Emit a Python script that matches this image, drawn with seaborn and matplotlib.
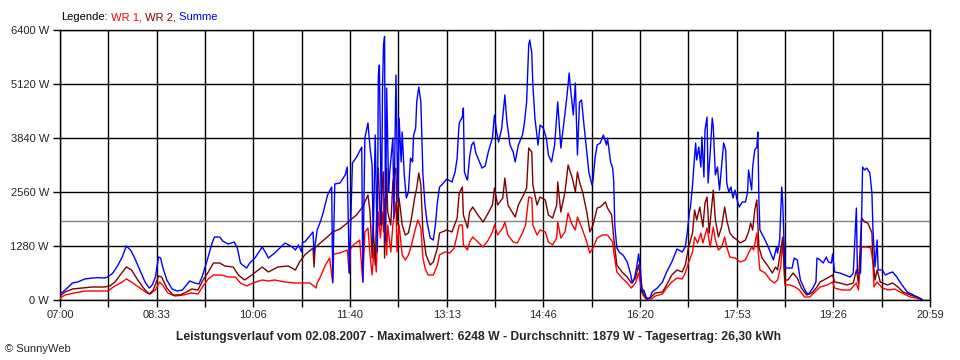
import numpy as np
import pandas as pd
import matplotlib
matplotlib.use("Agg")
import matplotlib.pyplot as plt
import seaborn as sns

# minutes after 07:00, power in W
wr1_pts = [(0, 47), (5, 119), (14, 166), (24, 213), (37, 213), (46, 213), (53, 332), (60, 427), (64, 498),
           (69, 427), (77, 284), (84, 166), (87, 142), (92, 237), (96, 427), (99, 356), (104, 166), (111, 95),
           (119, 119), (127, 166), (133, 142), (138, 332), (143, 498), (148, 593), (156, 593), (162, 545),
           (169, 545), (174, 403), (180, 332), (186, 403), (195, 474), (201, 450), (207, 474), (217, 427),
           (227, 403), (231, 403), (241, 403), (247, 284), (248, 403), (251, 545), (256, 830), (260, 995),
           (263, 403), (264, 1090), (270, 1114), (277, 1185), (279, 640), (280, 1200), (283, 1304), (289, 1422),
           (292, 427), (294, 1612), (297, 1706), (299, 1067), (301, 593), (303, 1304), (305, 664), (307, 2086),
           (309, 1469), (311, 2086), (312, 1612), (313, 2417), (315, 1067), (316, 1778), (319, 1138), (321, 1778),
           (324, 2323), (325, 1138), (327, 1778), (330, 1067), (333, 948), (336, 1067), (339, 1304), (342, 1612),
           (345, 1896), (348, 1706), (350, 995), (352, 758), (355, 593), (360, 593), (364, 830), (366, 1067),
           (371, 1138), (376, 1114), (380, 1232), (383, 1541), (385, 1778), (388, 1778), (389, 1304), (393, 1185),
           (395, 1375), (398, 1493), (403, 1375), (408, 1256), (413, 1422), (417, 1612), (419, 1778), (422, 1541),
           (427, 1706), (429, 1849), (432, 1541), (437, 1375), (441, 1351), (446, 1588), (449, 1778), (452, 2441),
           (455, 2417), (456, 1778), (460, 1541), (463, 1659), (468, 1612), (471, 1375), (475, 1304), (479, 1469),
           (480, 1849), (483, 1469), (487, 1612), (490, 2062), (494, 1778), (497, 1659), (499, 1967), (501, 1849),
           (504, 1659), (508, 1375), (511, 1114), (514, 1232), (518, 1469), (523, 1541), (528, 1541), (530, 1469),
           (533, 1375), (534, 1138), (537, 664), (542, 521), (547, 403), (551, 284), (555, 403), (558, 640),
           (560, 356), (562, 119), (566, 0), (569, 0), (574, 95), (581, 142), (585, 284), (590, 427), (595, 521),
           (600, 498), (603, 640), (606, 877), (610, 1138), (612, 1493), (615, 1351), (618, 1588), (620, 1351),
           (624, 1706), (627, 1256), (630, 1730), (632, 1422), (635, 1185), (638, 1256), (641, 1493), (643, 1256),
           (646, 1019), (651, 995), (656, 901), (661, 948), (664, 1114), (667, 1256), (669, 1185), (672, 1588),
           (674, 948), (675, 711), (680, 640), (685, 474), (689, 403), (692, 474), (695, 782), (697, 1422),
           (699, 356), (704, 356), (709, 308), (713, 237), (718, 71), (723, 71), (728, 190), (733, 308), (740, 356),
           (745, 427), (747, 284), (754, 237), (762, 237), (768, 403), (770, 237), (773, 1256), (778, 1256),
           (782, 1232), (784, 877), (785, 308), (788, 427), (793, 284), (799, 237), (805, 261), (812, 166),
           (820, 71), (826, 47), (831, 0)]

wr2_pts = [(0, 95), (5, 190), (12, 261), (21, 284), (31, 308), (43, 308), (48, 332), (53, 427), (58, 593),
           (64, 782), (69, 711), (75, 474), (82, 237), (86, 142), (90, 237), (95, 569), (98, 545), (103, 284),
           (109, 119), (116, 119), (122, 190), (127, 261), (133, 237), (138, 474), (143, 664), (148, 877),
           (154, 877), (159, 806), (167, 782), (172, 593), (178, 474), (185, 593), (195, 782), (201, 664),
           (210, 782), (220, 806), (227, 711), (231, 901), (236, 1067), (244, 1232), (245, 782), (246, 1240),
           (251, 1351), (260, 1541), (263, 1612), (270, 1683), (277, 1825), (280, 1896), (286, 2015), (291, 2180),
           (294, 2323), (297, 2489), (299, 2086), (301, 995), (302, 1778), (304, 830), (306, 2654), (307, 3128),
           (309, 1778), (311, 2797), (312, 3034), (313, 995), (315, 3128), (316, 2086), (319, 1778), (321, 2797),
           (324, 3128), (325, 1778), (327, 2417), (330, 1778), (333, 1541), (336, 1588), (339, 1943), (342, 2417),
           (344, 2654), (346, 3010), (348, 2726), (350, 1612), (353, 1067), (357, 830), (360, 901), (364, 1232),
           (366, 1588), (373, 1659), (378, 1612), (383, 1943), (385, 2536), (388, 2678), (389, 2015), (393, 1706),
           (395, 2086), (398, 2204), (403, 2015), (408, 1849), (413, 2062), (417, 2252), (419, 2654), (422, 2252),
           (427, 2417), (429, 2891), (432, 2252), (436, 2086), (439, 1967), (442, 2252), (447, 2489), (450, 2654),
           (452, 3602), (455, 3508), (456, 2726), (460, 2252), (463, 2441), (468, 2370), (471, 2015), (475, 1943),
           (479, 2252), (480, 2797), (483, 2086), (487, 2560), (490, 3200), (494, 2891), (497, 2560), (499, 3034),
           (501, 2797), (504, 2560), (508, 2086), (511, 1612), (514, 1778), (518, 2180), (521, 2204), (526, 2323),
           (528, 2180), (532, 2015), (534, 1469), (537, 830), (542, 664), (547, 545), (551, 403), (555, 521),
           (558, 830), (560, 521), (562, 190), (565, 47), (569, 47), (574, 166), (581, 190), (585, 356), (590, 593),
           (595, 711), (600, 664), (603, 830), (606, 1232), (610, 1588), (612, 2133), (614, 1896), (617, 2204),
           (620, 1730), (622, 2299), (624, 2441), (626, 1588), (629, 2370), (630, 2607), (632, 1896), (635, 1493),
           (638, 1730), (641, 2204), (643, 1896), (646, 1588), (649, 1493), (653, 1422), (656, 1351), (661, 1422),
           (664, 1612), (666, 1825), (668, 1659), (670, 2133), (672, 2370), (674, 1256), (677, 995), (682, 830),
           (687, 640), (690, 782), (692, 711), (695, 1185), (697, 1493), (699, 474), (702, 474), (707, 640),
           (711, 521), (715, 284), (720, 119), (725, 166), (730, 308), (733, 427), (740, 521), (745, 593),
           (747, 427), (752, 403), (759, 356), (765, 403), (768, 711), (770, 403), (773, 1943), (776, 1849),
           (779, 1825), (783, 1588), (784, 948), (786, 474), (788, 711), (791, 427), (798, 356), (803, 403),
           (808, 308), (813, 190), (820, 119), (826, 71), (831, 24)]

summe_pts = [(0, 142), (5, 237), (12, 403), (17, 427), (24, 498), (31, 521), (37, 530), (43, 521), (46, 545),
             (51, 640), (56, 830), (60, 1019), (64, 1280), (68, 1185), (72, 995), (77, 711), (82, 427), (86, 284),
             (89, 356), (92, 545), (95, 1019), (97, 995), (99, 782), (103, 474), (108, 261), (113, 213), (118, 237),
             (122, 356), (125, 450), (130, 403), (134, 379), (137, 545), (142, 948), (147, 1375), (149, 1493),
             (154, 1493), (157, 1398), (162, 1327), (168, 1375), (171, 1232), (174, 877), (176, 830), (180, 758),
             (183, 877), (188, 995), (195, 1256), (198, 1138), (201, 995), (207, 1114), (217, 1351), (224, 1256),
             (227, 1185), (230, 1304), (233, 1138), (234, 1375), (236, 1375), (244, 1612), (245, 1114), (248, 1659),
             (251, 1849), (254, 2086), (258, 2489), (262, 2678), (263, 427), (265, 2750), (270, 2773), (275, 2963),
             (277, 3152), (279, 640), (282, 3247), (286, 3389), (291, 3626), (292, 427), (294, 3839), (296, 4076),
             (297, 4195), (299, 3602), (301, 3200), (302, 1375), (304, 3911), (306, 1138), (307, 5333), (308, 5570),
             (310, 1778), (311, 4977), (312, 6044), (313, 6248), (314, 1375), (315, 5024), (317, 2560), (318, 3034),
             (321, 3839), (322, 1943), (324, 5333), (325, 3602), (326, 2323), (327, 4313), (329, 3271), (330, 3982),
             (332, 2963), (334, 2417), (336, 2560), (338, 3365), (340, 3271), (341, 3911), (343, 4076), (344, 4693),
             (346, 5048), (348, 4693), (350, 2963), (352, 2252), (354, 1849), (357, 1469), (360, 1422), (362, 1778),
             (364, 2323), (366, 2678), (369, 2750), (373, 2868), (378, 2797), (381, 3034), (383, 3365), (384, 3839),
             (385, 4195), (388, 4337), (389, 4550), (390, 3034), (392, 2891), (393, 2844), (395, 3389), (397, 3674),
             (399, 3745), (401, 3484), (403, 3365), (407, 3128), (410, 3176), (413, 3508), (417, 3839), (419, 4385),
             (421, 3982), (423, 3745), (426, 4076), (429, 4859), (431, 4219), (434, 3674), (437, 3508), (439, 3271),
             (442, 3674), (446, 3911), (448, 4219), (450, 4693), (452, 6044), (453, 6162), (455, 5854), (456, 5096),
             (458, 4313), (461, 3674), (463, 4148), (466, 4076), (469, 3839), (471, 3437), (474, 3271), (477, 3674),
             (480, 4693), (483, 3602), (486, 4219), (489, 4859), (491, 5380), (492, 5096), (495, 4385), (497, 5143),
             (499, 3437), (501, 4693), (503, 4740), (505, 4219), (508, 3508), (510, 3034), (513, 2726), (514, 2844),
             (516, 3365), (518, 3674), (521, 3721), (524, 3911), (527, 3674), (528, 3839), (531, 3271), (533, 3128),
             (534, 2797), (535, 1778), (537, 1232), (540, 1114), (543, 1067), (547, 901), (550, 640), (552, 403),
             (554, 521), (556, 758), (558, 1090), (560, 664), (561, 190), (563, 237), (566, 20), (569, 47), (571, 190),
             (576, 284), (581, 427), (585, 664), (590, 901), (595, 1209), (600, 1138), (603, 1256), (605, 1612),
             (607, 2086), (608, 2204), (610, 2726), (611, 3081), (613, 3721), (614, 3318), (616, 3626), (618, 3152),
             (619, 3863), (621, 2915), (622, 4029), (624, 4337), (625, 2773), (627, 3484), (629, 4313), (630, 4100),
             (632, 2963), (634, 3152), (636, 2607), (638, 3152), (640, 3721), (642, 3555), (643, 2773), (645, 2560),
             (647, 2678), (649, 2417), (651, 2607), (653, 2370), (655, 2204), (658, 2323), (661, 2323), (663, 2536),
             (664, 3081), (667, 2607), (668, 3152), (670, 3555), (672, 3626), (673, 3982), (674, 2370), (675, 1659),
             (680, 1422), (683, 1256), (688, 948), (691, 1256), (692, 1114), (694, 1422), (696, 2678), (697, 2299),
             (699, 782), (701, 758), (706, 758), (708, 995), (711, 948), (714, 474), (717, 308), (720, 166),
             (722, 142), (726, 284), (729, 427), (730, 995), (733, 948), (736, 877), (739, 1019), (741, 901),
             (744, 877), (745, 1090), (747, 664), (752, 640), (757, 593), (762, 545), (765, 640), (768, 2180),
             (769, 640), (772, 640), (773, 1967), (774, 3152), (776, 3081), (778, 3128), (781, 3010), (783, 2536),
             (784, 1659), (786, 782), (788, 1422), (789, 711), (793, 711), (796, 593), (800, 640), (803, 664),
             (807, 545), (812, 356), (817, 190), (823, 119), (827, 71), (832, 0)]

durchschnitt = 1879
y_ticks = [0, 1280, 2560, 3840, 5120, 6400]
x_labels = ["07:00", "08:33", "10:06", "11:40", "13:13", "14:46", "16:20", "17:53", "19:26", "20:59"]
day_minutes = 839  # 07:00 .. 20:59

legend_parts = ["Legende:", " WR 1,", " WR 2,", " Summe"]
legend_colors = ["black", "#FF0000", "#800000", "#0000FF"]
title = ("Leistungsverlauf vom 02.08.2007 - Maximalwert: 6248 W - Durchschnitt: 1879 W"
         " - Tagesertrag: 26,30 kWh")

sns.set_style("white")
plt.rcParams["font.family"] = ["Liberation Sans", "DejaVu Sans"]

fig = plt.figure(figsize=(9.6, 3.6), dpi=100)
ax = fig.add_axes([60 / 960, 1 - 300 / 360, 870 / 960, 270 / 360])

series = [(wr1_pts, "#FF0000"), (wr2_pts, "#800000"), (summe_pts, "#0000FF")]
for pts, col in series:
    df = pd.DataFrame(pts, columns=["minute", "watt"])
    sns.lineplot(data=df, x="minute", y="watt", color=col, lw=1.0,
                 estimator=None, sort=False, ax=ax, zorder=3)

ax.axhline(durchschnitt, color="#808080", lw=1.0, zorder=2)

ax.set_xlim(0, day_minutes)
ax.set_ylim(0, 6400)
xt = np.linspace(0, day_minutes, 2 * len(x_labels) - 1)
ax.set_xticks(xt)
ax.set_xticklabels([x_labels[i // 2] if i % 2 == 0 else "" for i in range(len(xt))])
ax.set_yticks(y_ticks)
ax.set_yticklabels([f"{v} W" for v in y_ticks])
ax.grid(True, color="black", lw=1.0, zorder=1)
ax.set_axisbelow(True)
ax.set_xlabel("")
ax.set_ylabel("")
for s in ax.spines.values():
    s.set_color("black")
    s.set_linewidth(1.0)
ax.tick_params(axis="both", direction="out", length=5, width=1, color="black",
               labelsize=8, pad=3, bottom=True, left=True)
ax.tick_params(axis="x", pad=2.5)

fig.canvas.draw()
r = fig.canvas.get_renderer()
x = 61 / 960
for txt, col in zip(legend_parts, legend_colors):
    t = fig.text(x, 1 - 17 / 360, txt, color=col, fontsize=8, va="center", ha="left")
    x += t.get_window_extent(renderer=r).width / fig.bbox.width

fig.text(479 / 960, 1 - 337 / 360, title, fontsize=8.75, fontweight="bold", ha="center", va="center")
fig.text(5 / 960, 1 - 349 / 360, "\u00a9 SunnyWeb", fontsize=8, ha="left", va="center")

fig.savefig("out.png", dpi=100)
